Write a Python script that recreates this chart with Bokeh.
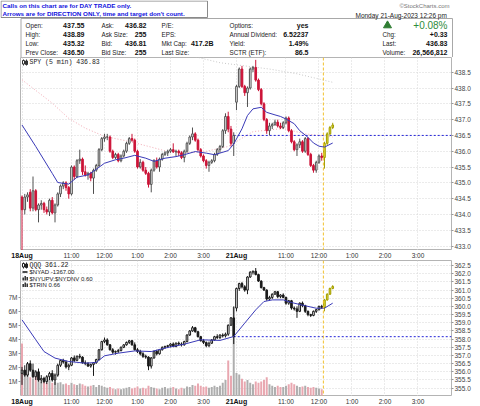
from bokeh.plotting import figure
from bokeh.layouts import column
from bokeh.models import (Range1d, LinearAxis, FixedTicker, Span, NumeralTickFormatter, Grid,
                          LabelSet, ColumnDataSource)
from bokeh.core.properties import value
from bokeh.embed import file_html
from bokeh.resources import INLINE

# ---------------- data (5-min bars, index 0 = 18Aug 9:30) ----------------
spy_open = [434.55,434.15,434.55,434.70,434.20,434.75,434.15,434.30,434.35,434.15,
            434.08,434.45,434.05,434.30,434.65,434.90,435.00,434.85,434.65,435.50,
            435.20,435.70,435.75,435.35,435.25,435.30,435.15,435.40,435.55,436.05,
            436.40,436.45,436.45,436.00,435.80,435.90,435.70,435.85,436.00,436.25,
            436.40,436.35,436.00,435.50,435.65,435.40,435.30,434.95,435.40,435.70,
            435.50,435.75,435.90,435.95,436.00,436.05,435.98,436.00,435.95,435.80,
            436.00,436.25,436.45,436.55,436.35,436.05,435.85,435.70,435.55,435.65,
            435.70,435.90,436.05,436.15,436.65,437.10,436.70,436.25,
            437.55,438.05,438.60,438.05,437.85,438.00,438.60,438.65,438.25,437.95,
            437.50,437.00,436.65,436.80,436.85,436.92,436.80,436.75,436.90,437.05,
            436.65,436.30,436.05,436.20,436.30,436.00,436.40,435.90,435.55,435.40,
            435.65,435.85,435.80,436.25,436.55,436.75]
spy_high = [434.60,434.65,434.70,434.80,435.20,434.80,434.35,434.45,434.40,434.25,
            434.50,434.55,434.35,434.70,434.95,435.05,435.05,434.90,435.55,435.55,
            435.75,436.05,435.80,435.55,435.35,435.35,435.45,435.60,436.10,436.45,
            436.55,436.55,436.50,436.05,435.95,435.95,435.90,436.05,436.30,436.45,
            436.55,436.40,436.05,435.75,435.70,435.50,435.35,435.45,435.75,435.80,
            435.80,435.95,436.00,436.05,436.10,436.25,436.05,436.05,436.00,436.05,
            436.30,436.50,436.75,436.60,436.40,436.10,435.90,435.75,435.70,435.75,
            435.95,436.10,436.20,436.70,437.20,437.25,436.80,436.60,
            438.10,438.65,438.70,438.10,438.05,438.65,438.70,438.89,438.30,438.00,
            437.55,437.05,436.90,436.90,437.00,437.00,436.90,436.95,437.10,437.10,
            436.70,436.35,436.25,436.40,436.35,436.45,436.45,435.95,435.60,435.70,
            435.90,435.95,436.30,436.60,436.80,436.90]
spy_low = [432.85,434.00,434.40,434.10,434.10,434.10,433.75,434.15,434.05,434.00,
           433.95,434.00,433.75,434.25,434.55,434.80,434.75,434.50,434.60,435.10,
           435.15,435.60,435.25,435.20,435.10,435.05,434.65,435.35,435.50,436.00,
           436.30,436.35,435.95,435.75,435.75,435.65,435.65,435.80,435.95,436.20,
           436.30,435.95,435.45,435.45,435.35,435.25,434.85,434.70,435.35,435.45,
           435.35,435.70,435.85,435.85,435.95,435.95,435.85,435.85,435.75,435.65,
           435.95,436.20,436.35,436.30,436.00,435.80,435.65,435.45,435.35,435.60,
           435.65,435.85,435.95,436.10,436.55,436.60,436.15,435.85,
           437.30,438.00,438.00,437.75,437.40,437.95,438.50,438.20,437.90,437.45,
           436.95,436.55,436.50,436.70,436.80,436.75,436.70,436.70,436.85,436.60,
           436.25,436.00,435.85,436.10,435.95,435.95,435.85,435.50,435.32,435.32,
           435.60,435.70,435.45,436.20,436.50,436.70]
spy_close = [434.15,434.55,434.62,434.20,434.75,434.15,434.30,434.35,434.15,434.08,
             434.45,434.05,434.30,434.65,434.90,435.00,434.85,434.65,435.50,435.20,
             435.70,435.75,435.35,435.25,435.30,435.15,435.40,435.55,436.05,436.40,
             436.45,436.45,436.00,435.80,435.90,435.70,435.85,436.00,436.25,436.40,
             436.35,436.00,435.50,435.65,435.40,435.30,434.95,435.40,435.70,435.50,
             435.75,435.90,435.95,436.00,436.05,435.98,436.00,435.95,435.80,436.00,
             436.25,436.45,436.55,436.35,436.05,435.85,435.70,435.55,435.65,435.70,
             435.90,436.05,436.15,436.65,437.10,436.70,436.25,436.50,
             438.05,438.60,438.05,437.85,438.00,438.60,438.65,438.25,437.95,437.50,
             437.00,436.65,436.80,436.85,436.92,436.80,436.75,436.90,437.05,436.65,
             436.30,436.05,436.20,436.30,436.00,436.40,435.90,435.55,435.40,435.65,
             435.85,435.80,436.25,436.55,436.75,436.83]

qqq_open = [355.9,356.1,355.8,356.5,356.1,355.7,356.0,355.5,355.6,355.4,
            355.7,355.9,355.5,355.8,356.4,356.7,356.6,356.3,356.4,356.85,
            356.7,356.95,356.9,356.55,356.5,356.35,356.45,356.55,356.75,357.35,
            357.85,357.95,357.65,357.35,357.2,357.25,357.3,357.5,357.65,357.8,
            357.9,357.65,357.35,357.25,357.1,356.95,356.9,356.35,356.85,357.25,
            357.1,357.35,357.5,357.55,357.6,357.7,357.55,357.75,357.7,357.65,
            357.85,358.25,358.5,358.7,358.45,358.15,357.9,357.8,357.6,357.75,
            357.95,358.15,358.1,358.25,358.2,358.3,358.85,359.3,
            359.9,361.1,361.4,361.2,361.0,361.8,362.1,362.15,361.95,361.55,
            361.15,361.0,360.45,360.55,360.75,360.9,360.6,360.7,360.55,360.2,
            360.35,359.9,359.85,359.7,360.2,360.05,359.7,359.5,359.45,359.7,
            359.8,360.0,359.95,360.4,360.75,361.1]
qqq_high = [356.3,356.4,356.6,356.7,356.5,356.1,356.2,355.8,355.7,355.8,
            356.0,356.1,355.9,356.5,356.75,356.8,356.7,356.5,356.9,357.0,
            357.0,357.1,356.95,356.7,356.6,356.5,356.6,356.8,357.4,357.9,
            358.1,358.05,357.7,357.45,357.3,357.4,357.55,357.7,357.85,357.95,
            357.95,357.8,357.45,357.35,357.2,357.05,356.95,356.9,357.3,357.35,
            357.4,357.55,357.6,357.65,357.75,357.8,357.8,357.85,357.8,357.9,
            358.3,358.55,358.8,358.75,358.5,358.2,358.0,357.85,357.85,358.0,
            358.2,358.3,358.3,358.35,358.4,358.9,359.35,360.0,
            361.15,361.45,361.5,361.3,361.85,362.15,362.2,362.35,362.0,361.6,
            361.2,361.05,360.65,360.8,360.95,360.95,360.75,360.8,360.6,360.4,
            360.4,360.0,360.0,360.25,360.3,360.1,359.75,359.55,359.75,359.85,
            360.05,360.1,360.45,360.8,361.15,361.3]
qqq_low = [355.2,355.7,355.7,356.0,355.6,355.5,355.4,355.3,355.3,355.25,
           355.5,355.4,355.2,355.7,356.3,356.5,356.2,356.1,356.35,356.6,
           356.65,356.8,356.5,356.4,356.3,356.25,355.75,356.5,356.7,357.3,
           357.75,357.6,357.3,357.1,357.05,357.15,357.25,357.45,357.6,357.7,
           357.6,357.3,357.15,357.0,356.85,356.8,356.1,356.2,356.8,357.0,
           357.05,357.3,357.4,357.45,357.5,357.5,357.5,357.6,357.55,357.6,
           357.8,358.2,358.45,358.4,358.1,357.85,357.7,357.5,357.5,357.7,
           357.9,358.0,358.0,358.1,358.1,358.2,358.8,357.7,
           359.7,360.95,361.1,360.9,360.75,361.75,361.95,361.9,361.5,361.1,
           360.95,360.35,360.35,360.45,360.7,360.5,360.5,360.5,360.1,360.1,
           359.8,359.75,359.3,359.65,359.95,359.6,359.4,359.35,359.4,359.6,
           359.75,359.85,359.7,360.35,360.7,361.05]
qqq_close = [356.1,355.8,356.5,356.1,355.7,356.0,355.5,355.6,355.4,355.7,
             355.9,355.5,355.8,356.4,356.7,356.6,356.3,356.4,356.85,356.7,
             356.95,356.9,356.55,356.5,356.35,356.45,356.55,356.75,357.35,357.85,
             357.95,357.65,357.35,357.2,357.25,357.3,357.5,357.65,357.8,357.9,
             357.65,357.35,357.25,357.1,356.95,356.9,356.35,356.85,357.25,357.1,
             357.35,357.5,357.55,357.6,357.7,357.55,357.75,357.7,357.65,357.85,
             358.25,358.5,358.7,358.45,358.15,357.9,357.8,357.6,357.75,357.95,
             358.15,358.1,358.25,358.2,358.3,358.85,359.3,358.15,
             361.1,361.4,361.2,361.0,361.8,362.1,362.15,361.95,361.55,361.15,
             361.0,360.45,360.55,360.75,360.9,360.6,360.7,360.55,360.2,360.35,
             359.9,359.85,359.7,360.2,360.05,359.7,359.5,359.45,359.7,359.8,
             360.0,359.95,360.4,360.75,361.1,361.22]

# SPY volume in millions (bars up to the call marker)
volume_m = [3.7,1.8,1.6,1.3,1.2,1.4,1.1,1.0,1.2,0.9,
            1.1,0.9,1.0,0.9,0.95,0.8,0.85,0.75,0.9,0.8,
            0.75,0.85,0.8,0.7,0.65,0.7,0.75,0.6,0.75,0.7,
            0.6,0.55,0.6,0.5,0.45,0.5,0.45,0.5,0.55,0.6,
            0.5,0.55,0.65,0.5,0.55,0.5,0.7,0.6,0.55,0.5,
            0.45,0.55,0.6,0.5,0.55,0.6,0.5,0.45,0.55,0.5,
            0.65,0.6,0.75,0.7,0.85,0.7,0.6,0.65,0.55,0.6,
            0.7,0.6,0.7,0.9,1.1,2.5,1.4,6.3,
            1.6,1.5,1.2,1.0,1.1,0.9,0.8,1.0,0.9,1.0,
            1.1,1.3,0.8,0.7,0.6,0.7,0.6,0.6,0.7,0.8,
            0.9,0.8,0.7,0.6,0.65,0.7,0.6,0.55,0.6,0.55,
            0.5,0.45]

spy_ma_idx = [0,5,11,13,17,20,24,27,30,34,37,41,45,48,52,56,59,63,67,70,75,77,80,82,84,87,89,92,94,96,99,101,104,106,108,110,113]
spy_ma = [436.83,436.15,435.30,435.01,434.96,435.18,435.25,435.43,435.62,435.73,435.78,435.87,435.78,435.68,
          435.78,435.83,435.89,435.99,435.94,435.89,436.02,436.23,436.71,437.13,437.34,437.39,437.23,437.15,
          437.10,437.02,436.87,436.65,436.44,436.26,436.16,436.13,436.26]
spy_ma2_idx = [0,11,17,23,30,39,47,53,58,66,75,84,95,103,113]
spy_ma2 = [438.26,437.52,437.04,436.73,436.47,436.31,436.13,435.99,435.95,435.98,436.15,436.62,436.72,436.55,436.45]
spy_ma3_idx = [60,72,90,100,113]
spy_ma3 = [439.05,438.80,438.60,438.45,438.18]
qqq_ma_idx = [0,5,8,12,17,23,27,30,35,41,47,53,59,65,72,77,81,85,88,91,95,98,103,107,110,113]
qqq_ma = [359.18,357.96,357.24,356.84,356.63,356.53,356.57,356.98,357.14,357.28,357.24,357.49,357.69,
          357.96,357.92,358.16,358.98,359.79,360.30,360.40,360.40,360.24,360.04,359.89,359.89,360.20]

x_tick_idx = [0, 18, 30, 42, 54, 66, 78, 96, 108, 120, 132, 144]
x_tick_labels = ["18Aug", "11:00", "12:00", "1:00", "2:00", "3:00",
                 "21Aug", "11:00", "12:00", "1:00", "2:00", "3:00"]
spy_ticks = [433.0, 433.5, 434.0, 434.5, 435.0, 435.5, 436.0, 436.5, 437.0, 437.5, 438.0, 438.5]
qqq_ticks = [355.0, 355.5, 356.0, 356.5, 357.0, 357.5, 358.0, 358.5, 359.0, 359.5,
             360.0, 360.5, 361.0, 361.5, 362.0, 362.5]
vol_ticks = [1, 2, 3, 4, 5, 6, 7]
vol_tick_labels = ["1M", "2M", "3M", "4M", "5M", "6M", "7M"]

spy_prev_close = 436.50
qqq_prev_close = 358.15
friday_close_idx = 77
call_marker_idx = 109.6
live_from_idx = 110

# ---------------- layout constants ----------------
FONT = "Liberation Sans"
MONO = "Liberation Mono"
LEFT, FW, RIGHT = 20, 431, 29
XR0, XR1 = -0.55, 156.2
SPY_Y = (432.86, 438.965)
QQQ_Y = (354.49, 362.81)
VOL_Y = (-0.07, 9.61)
TOP_H, BOT_H, STRIP_H, HEAD_H = 193, 136, 10, 57
GRID = "#d6d6d6"
shared_x = Range1d(XR0, XR1)


def base_fig(fw, fh, xr, yr, ml=0, mr=0):
    p = figure(frame_width=fw, frame_height=fh, x_range=xr, y_range=yr,
               toolbar_location=None, tools="", output_backend="svg",
               min_border_left=ml, min_border_right=mr, min_border_top=0, min_border_bottom=0,
               x_axis_location=None, y_axis_location=None,
               background_fill_color="white", border_fill_color="white")
    try:
        p.frame_align = False
    except Exception:
        pass
    p.grid.visible = False
    return p


def style_axis(ax):
    ax.major_label_text_font = FONT
    ax.major_label_text_font_size = "6.5px"
    ax.major_label_text_color = "#444444"
    ax.major_tick_out = 2
    ax.major_tick_in = 0
    ax.major_tick_line_color = "#999999"
    ax.minor_tick_line_color = None
    ax.axis_line_color = None
    ax.major_label_standoff = 1


def add_grids(p, yticks):
    p.add_layout(Grid(dimension=0, ticker=FixedTicker(ticks=x_tick_idx),
                      grid_line_color=GRID, grid_line_dash="1 2"))
    p.add_layout(Grid(dimension=1, ticker=FixedTicker(ticks=yticks),
                      grid_line_color=GRID, grid_line_dash="1 2"))


def px_mapper(y0, y1, top_px, h):
    def fx(px):
        return XR0 + (px - LEFT) / FW * (XR1 - XR0)

    def fy(py):
        return y1 - (py - top_px) / h * (y1 - y0)
    return fx, fy


def draw_candles(p, o, h, l, c, kind):
    lines, fills, tops, bots = [], [], [], []
    for i in range(len(c)):
        if i >= live_from_idx:
            lc, fc = "#a39d00", "#e4de3a"
        elif kind == "spy":
            prev = c[i - 1] if i > 0 else o[i]
            lc = "#cc1438" if c[i] < prev else "#505050"
            fc = lc if c[i] < o[i] else "white"
        else:
            lc = "#1a1a1a"
            fc = lc if c[i] < o[i] else "white"
        lines.append(lc)
        fills.append(fc)
        tops.append(max(o[i], c[i]))
        bots.append(min(o[i], c[i]))
    x = list(range(len(c)))
    p.segment(x0=x, y0=l, x1=x, y1=h, line_color=lines, line_width=1)
    p.vbar(x=x, width=0.6, top=tops, bottom=bots, fill_color=fills, line_color=lines, line_width=1)


def candle_icon(p, fx, fy, px, py, col):
    p.segment(x0=[fx(px + 1), fx(px + 4)], y0=[fy(py - 3), fy(py - 3)],
              x1=[fx(px + 1), fx(px + 4)], y1=[fy(py + 3), fy(py + 3)], line_color=col, line_width=1)
    p.quad(left=[fx(px), fx(px + 3)], right=[fx(px + 2), fx(px + 5)],
           top=[fy(py - 2), fy(py - 1.5)], bottom=[fy(py + 1.5), fy(py + 2)],
           fill_color=["white", col], line_color=col, line_width=1)


# ---------------- header ----------------
head = base_fig(480, HEAD_H, Range1d(0, 480), Range1d(HEAD_H, 0))
head.outline_line_color = None
head.quad(left=[20.5], right=[452], top=[18], bottom=[57], fill_color="white", line_color="#a8a8a8")
rows_y = [25, 34, 43, 52]
col_labels = [
    (25, 84, ["Open:", "High:", "Low:", "Prev Close:"], ["437.55", "438.89", "435.32", "436.50"]),
    (101, 146, ["Ask:", "Ask Size:", "Bid:", "Bid Size:"], ["436.82", "255", "436.81", "255"]),
    (161, 213, ["P/E:", "EPS:", "Mkt Cap:", "Last Size:"], ["", "", "417.2B", ""]),
    (229, 308, ["Options:", "Annual Dividend:", "Yield:", "SCTR (ETF):"], ["yes", "6.52237", "1.49%", "86.5"]),
]
for lx, vx, labs, vals in col_labels:
    head.text(x=[lx] * 4, y=rows_y, text=labs, text_font=value(FONT), text_font_size="6.3px",
              text_color="#222222", text_baseline="middle", text_align="left")
    head.text(x=[vx] * 4, y=rows_y, text=vals, text_font=value(FONT), text_font_size="7px",
              text_font_style="bold", text_color="#111111", text_baseline="middle", text_align="right")
head.text(x=[382, 382, 382], y=rows_y[1:], text=["Chg:", "Last:", "Volume:"], text_font=value(FONT),
          text_font_size="6.3px", text_color="#222222", text_baseline="middle", text_align="left")
head.text(x=[447, 447, 447], y=rows_y[1:], text=["+0.33", "436.83", "26,566,812"], text_font=value(FONT),
          text_font_size="7px", text_font_style="bold", text_color="#111111",
          text_baseline="middle", text_align="right")
head.text(x=[447], y=[25], text=["+0.08%"], text_font=value(FONT), text_font_size="10px",
          text_color="#2e8b3a", text_baseline="middle", text_align="right")
head.scatter(x=[387], y=[25], marker="triangle", size=8, fill_color="#2e7d32", line_color="#2e7d32")
head.text(x=[450], y=[14.5], text=["Monday  21-Aug-2023  12:26 pm"], text_font=value(FONT),
          text_font_size="6.5px", text_color="#222222", text_baseline="middle", text_align="right")
head.text(x=[449], y=[5], text=["\u00a9StockCharts.com"], text_font=value(FONT),
          text_font_size="6px", text_color="#777777", text_baseline="middle", text_align="right")
head.quad(left=[0.5], right=[207], top=[0.5], bottom=[17], fill_color="white", line_color="#8a8a8a")
head.text(x=[2, 2], y=[5, 12.5],
          text=["Calls on this chart are for DAY TRADE only.",
                "Arrows are for DIRECTION ONLY, time and target don't count."],
          text_font=value(FONT), text_font_size="6.25px", text_font_style="bold",
          text_color="#1010dd", text_baseline="middle", text_align="left")

# ---------------- top panel (SPY) ----------------
top = base_fig(FW, TOP_H, shared_x, Range1d(*SPY_Y), LEFT, RIGHT)
top.outline_line_color = "#b4b4b4"
add_grids(top, spy_ticks)
ax = LinearAxis(ticker=FixedTicker(ticks=spy_ticks), formatter=NumeralTickFormatter(format="0.0"))
style_axis(ax)
top.add_layout(ax, "right")
top.line(spy_ma3_idx, spy_ma3, line_color="#c8c8c8", line_dash="1 2", line_width=1)
top.line(spy_ma2_idx, spy_ma2, line_color="#f2a9b4", line_dash="1 2", line_width=1)
top.segment(x0=[friday_close_idx], y0=[spy_prev_close], x1=[XR1], y1=[spy_prev_close],
            line_color="#2424d8", line_dash="2 2", line_width=1)
draw_candles(top, spy_open, spy_high, spy_low, spy_close, "spy")
top.line(spy_ma_idx, spy_ma, line_color="#3a3ab8", line_width=1)
top.add_layout(Span(location=call_marker_idx, dimension="height", line_color="#f2c12e",
                    line_dash="3 2", line_width=1))
fx, fy = px_mapper(*SPY_Y, 57, TOP_H)
candle_icon(top, fx, fy, 22, 62, "#333333")
top.text(x=[fx(29)], y=[fy(62)], text=["SPY (5 min) 436.83"], text_font=value(MONO),
         text_font_size="6.5px", text_color="#222222", text_baseline="middle", text_align="left")


# ---------------- label strips: full-width frame, not aligned to the panels ----------------
def strip():
    scale = (XR1 - XR0) / FW
    s = base_fig(480, STRIP_H, Range1d(XR0 - LEFT * scale, XR0 + (480 - LEFT) * scale), Range1d(0, 1))
    s.outline_line_color = None
    day = ColumnDataSource(dict(x=[x for x, t in zip(x_tick_idx, x_tick_labels) if "Aug" in t],
                                t=[t for t in x_tick_labels if "Aug" in t]))
    hr = ColumnDataSource(dict(x=[x for x, t in zip(x_tick_idx, x_tick_labels) if "Aug" not in t],
                               t=[t for t in x_tick_labels if "Aug" not in t]))
    s.add_layout(LabelSet(x="x", y=0.7, text="t", source=hr, text_font=value(FONT),
                          text_font_size="6.5px", text_color="#333333",
                          text_align="center", text_baseline="middle"))
    s.add_layout(LabelSet(x="x", y=0.7, text="t", source=day, text_font=value(FONT),
                          text_font_size="7px", text_font_style="bold", text_color="#111111",
                          text_align="center", text_baseline="middle"))
    return s


strip1 = strip()
strip2 = strip()

# ---------------- bottom panel (QQQ + volume) ----------------
bot = base_fig(FW, BOT_H, shared_x, Range1d(*QQQ_Y), LEFT, RIGHT)
bot.outline_line_color = "#b4b4b4"
bot.extra_y_ranges = {"vol": Range1d(*VOL_Y)}
add_grids(bot, qqq_ticks)
axr = LinearAxis(ticker=FixedTicker(ticks=qqq_ticks), formatter=NumeralTickFormatter(format="0.0"))
style_axis(axr)
bot.add_layout(axr, "right")
axl = LinearAxis(y_range_name="vol", ticker=FixedTicker(ticks=vol_ticks),
                 major_label_overrides={t: l for t, l in zip(vol_ticks, vol_tick_labels)})
style_axis(axl)
bot.add_layout(axl, "left")
vcol = []
for i in range(len(volume_m)):
    prev = spy_close[i - 1] if i > 0 else spy_open[i]
    vcol.append("#e9a7b0" if spy_close[i] < prev else "#aeaeae")
bot.vbar(x=list(range(len(volume_m))), width=0.72, top=volume_m, bottom=0, y_range_name="vol",
         fill_color=vcol, line_color=None)
bot.segment(x0=[friday_close_idx], y0=[qqq_prev_close], x1=[XR1], y1=[qqq_prev_close],
            line_color="#2424d8", line_dash="2 2", line_width=1)
draw_candles(bot, qqq_open, qqq_high, qqq_low, qqq_close, "qqq")
bot.line(qqq_ma_idx, qqq_ma, line_color="#3a3ab8", line_width=1)
bot.add_layout(Span(location=call_marker_idx, dimension="height", line_color="#f2c12e",
                    line_dash="3 2", line_width=1))
bx, by = px_mapper(*QQQ_Y, 260, BOT_H)
leg_y = [265, 271.5, 278, 284.5]
candle_icon(bot, bx, by, 22, leg_y[0], "#222222")
bot.segment(x0=[bx(22)], y0=[by(leg_y[1])], x1=[bx(27)], y1=[by(leg_y[1])], line_color="#111111", line_width=1.5)
for ly in leg_y[2:]:
    bot.quad(left=[bx(22), bx(24), bx(26)], right=[bx(23.4), bx(25.4), bx(27.4)],
             top=[by(ly - 1), by(ly - 2.5), by(ly - 1.5)], bottom=[by(ly + 2)] * 3,
             fill_color="#222222", line_color=None)
bot.text(x=[bx(29)], y=[by(leg_y[0])], text=["QQQ 361.22"], text_font=value(MONO),
         text_font_size="6.5px", text_color="#222222", text_baseline="middle", text_align="left")
bot.text(x=[bx(29)] * 3, y=[by(v) for v in leg_y[1:]],
         text=["$NYAD -1367.00", "$NYUPV:$NYDNV 0.60", "$TRIN 0.66"], text_font=value(FONT),
         text_font_size="6px", text_color="#222222", text_baseline="middle", text_align="left")

layout = column(head, top, strip1, bot, strip2, spacing=0)
open("out.html", "w").write(file_html(layout, INLINE))
